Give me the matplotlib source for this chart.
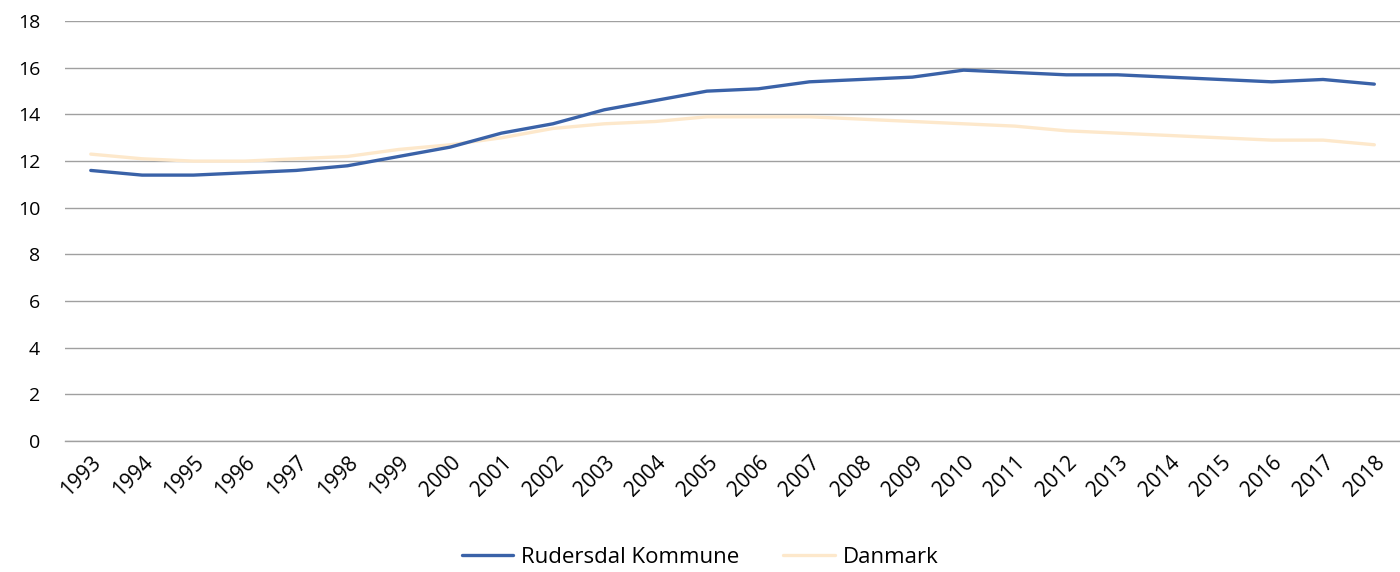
import matplotlib.pyplot as plt

years = [str(y) for y in range(1993, 2019)]
rudersdal = [11.6, 11.4, 11.4, 11.5, 11.6, 11.8, 12.2, 12.6, 13.2, 13.6, 14.2, 14.6, 15.0,
             15.1, 15.4, 15.5, 15.6, 15.9, 15.8, 15.7, 15.7, 15.6, 15.5, 15.4, 15.5, 15.3]
danmark = [12.3, 12.1, 12.0, 12.0, 12.1, 12.2, 12.5, 12.7, 13.0, 13.4, 13.6, 13.7, 13.9,
           13.9, 13.9, 13.8, 13.7, 13.6, 13.5, 13.3, 13.2, 13.1, 13.0, 12.9, 12.9, 12.7]
y_ticks = list(range(0, 20, 2))

plt.rcParams["font.family"] = ["Open Sans", "DejaVu Sans"]

fig = plt.figure(figsize=(14, 5.72), dpi=100)
ax = fig.add_axes([0.0465, 0.229, 0.9535, 0.734])

x = range(len(years))
ax.plot(x, rudersdal, color="#3A62A8", linewidth=2.4, label="Rudersdal Kommune",
        solid_capstyle="round", zorder=3)
ax.plot(x, danmark, color="#FDE8CB", linewidth=2.4, label="Danmark",
        solid_capstyle="round", zorder=2)

ax.set_xlim(-0.5, len(years) - 0.5)
ax.set_ylim(0, 18)
ax.set_yticks(y_ticks)
ax.set_xticks(list(x))
ax.set_xticklabels(years, rotation=45, ha="right", rotation_mode="anchor")
ax.tick_params(axis="both", length=0, colors="#000000")
ax.tick_params(axis="y", pad=18, labelsize=14)
ax.tick_params(axis="x", pad=8, labelsize=15)
ax.grid(axis="y", color="#A0A0A0", linewidth=1)
ax.axhline(0, color="#A0A0A0", linewidth=1, clip_on=False, zorder=1)
ax.set_axisbelow(True)
for s in ax.spines.values():
    s.set_visible(False)

fig.legend(loc="lower center", bbox_to_anchor=(0.5, -0.018), ncol=2, frameon=False,
           fontsize=16, handlelength=2.3, columnspacing=2.0, handletextpad=0.36,
           borderpad=0.15)

plt.savefig("out.png", dpi=100)
